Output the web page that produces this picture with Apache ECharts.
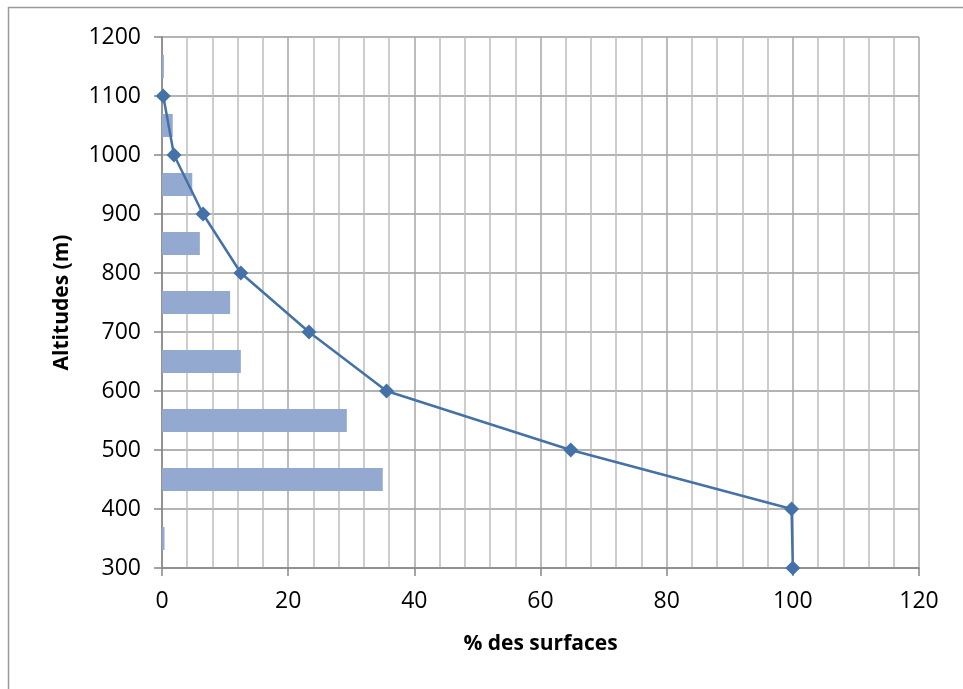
<!DOCTYPE html>
<html>
<head>
<meta charset="utf-8">
<script src="https://cdn.jsdelivr.net/npm/echarts@6/dist/echarts.min.js"></script>
<style>html,body{margin:0;padding:0;background:#fff;}#c{width:963px;height:689px;}</style>
</head>
<body>
<div id="c"></div>
<script>
// Altitude bands (bars) and their share of surface (%)
var bandLabels = ['300-400','400-500','500-600','600-700','700-800','800-900','900-1000','1000-1100','1100-1200'];
var bandPercent = [0.4, 35.0, 29.3, 12.5, 10.8, 6.0, 4.8, 1.7, 0.3];
// Cumulative curve: altitude (m) and % of surfaces above
var curveAltitude = [1100, 1000, 900, 800, 700, 600, 500, 400, 300];
var curvePercent = [0.2, 1.9, 6.5, 12.5, 23.3, 35.6, 64.8, 99.8, 100];
var xTitle = '% des surfaces';
var yTitle = 'Altitudes (m)';

var font = '"Open Sans", "Liberation Sans", sans-serif';
var chart = echarts.init(document.getElementById('c'), null, {renderer: 'canvas'});
var curveData = curveAltitude.map(function (a, i) { return [curvePercent[i], a]; });

chart.setOption({
  animation: false,
  backgroundColor: '#fff',
  graphic: [{
    type: 'polyline',
    shape: {points: [[8.5, 700], [8.5, 7.5], [970, 7.5]]},
    style: {stroke: '#9a9a9a', lineWidth: 1.5, fill: null},
    silent: true
  }],
  grid: {left: 162, right: 44, top: 37, bottom: 121, containLabel: false},
  xAxis: [{
    type: 'value', min: 0, max: 120, interval: 20,
    name: xTitle, nameLocation: 'middle', nameGap: 66,
    nameTextStyle: {fontFamily: font, fontSize: 21, fontWeight: 'bold', color: '#000'},
    axisLine: {show: true, lineStyle: {color: '#868686', width: 1.5}},
    axisTick: {show: true, length: 8, lineStyle: {color: '#868686', width: 1.5}},
    axisLabel: {fontFamily: font, fontSize: 23, color: '#000', margin: 22,
      formatter: function (v) { return String(v); }},
    splitLine: {show: true, lineStyle: {color: '#a6a6a6', width: 1.5}},
    minorTick: {show: false, splitNumber: 5},
    minorSplitLine: {show: true, lineStyle: {color: '#bdbdbd', width: 1.5}}
  }],
  yAxis: [{
    type: 'value', min: 300, max: 1200, interval: 100,
    name: yTitle, nameLocation: 'middle', nameGap: 89, nameRotate: 90,
    nameTextStyle: {fontFamily: font, fontSize: 21, fontWeight: 'bold', color: '#000'},
    axisLine: {show: true, lineStyle: {color: '#868686', width: 1.5}},
    axisTick: {show: true, length: 8, lineStyle: {color: '#868686', width: 1.5}},
    axisLabel: {fontFamily: font, fontSize: 23, color: '#000', margin: 21,
      formatter: function (v) { return String(v); }},
    splitLine: {show: true, lineStyle: {color: '#9a9a9a', width: 1.5}}
  }, {
    type: 'category', data: bandLabels, boundaryGap: true,
    show: false,
    axisLine: {show: false}, axisTick: {show: false}, axisLabel: {show: false},
    splitLine: {show: false}
  }],
  series: [{
    type: 'bar',
    xAxisIndex: 0, yAxisIndex: 1,
    data: bandPercent,
    barWidth: '39%',
    itemStyle: {color: '#94a9cf'},
    z: 2
  }, {
    type: 'line',
    xAxisIndex: 0, yAxisIndex: 0,
    data: curveData,
    symbol: 'diamond', symbolSize: 15,
    lineStyle: {color: '#4472a8', width: 2.5},
    itemStyle: {color: '#4472a8'},
    z: 3
  }]
});
</script>
</body>
</html>
